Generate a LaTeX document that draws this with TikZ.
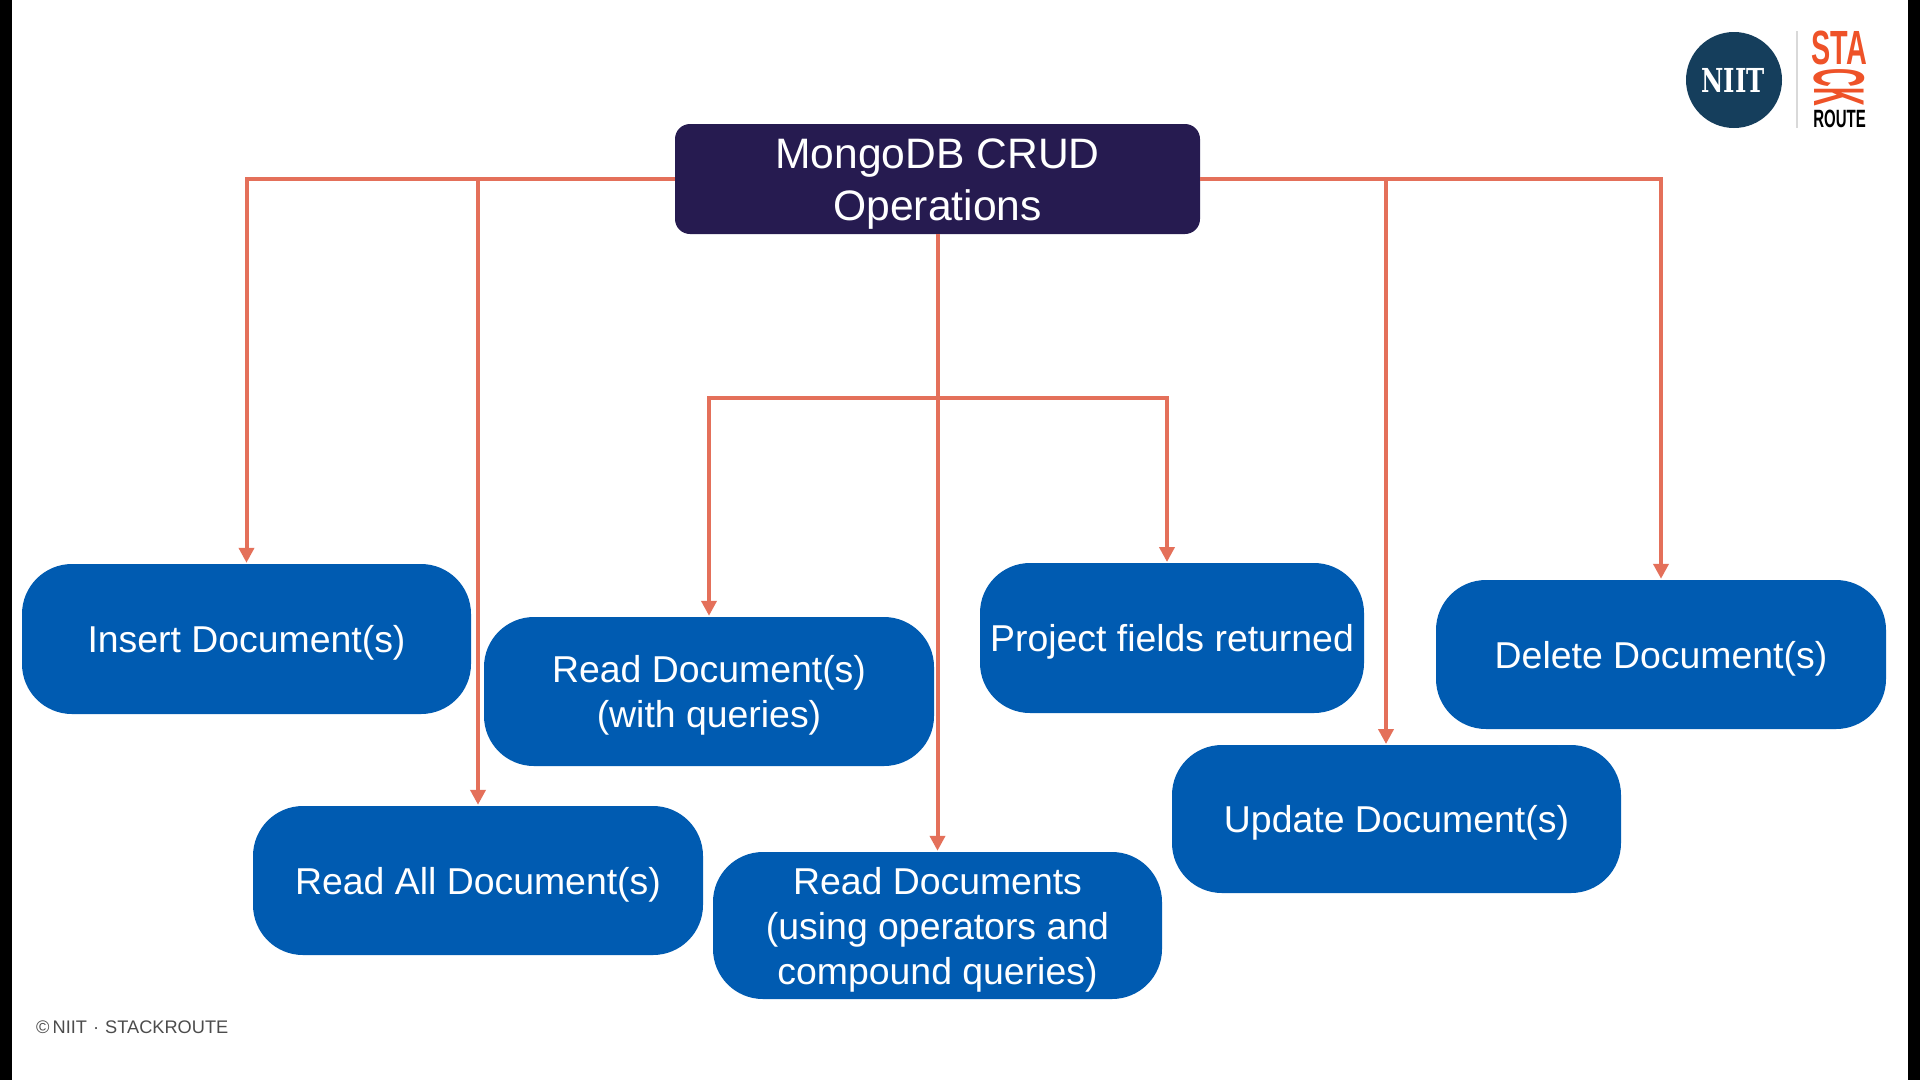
\documentclass[tikz,border=0pt]{standalone}
\usepackage{graphicx}
\usepackage{fontspec}
\setmainfont{Liberation Sans}
\newfontfamily\slabfont{DejaVu Serif}
\usetikzlibrary{arrows.meta}
\definecolor{rootc}{HTML}{261B50}
\definecolor{boxc}{HTML}{005BB1}
\definecolor{linec}{HTML}{E4705A}
\definecolor{niitc}{HTML}{153E5C}
\definecolor{stackc}{HTML}{EE5228}
\tikzset{
  x=1pt,y=-1pt,
  rootbox/.style={fill=rootc,rounded corners=15pt,text=white,align=center,font=\fontsize{42.6}{52}\selectfont,inner sep=0pt},
  opbox/.style={fill=boxc,rounded corners=50pt,text=white,align=center,font=\fontsize{37.4}{45}\selectfont,inner sep=0pt},
  link/.style={draw=linec,line width=4pt},
  arrowlink/.style={link,-{Triangle[length=15pt,width=15pt]},shorten >=1pt},
}
\newcommand{\opnode}[6]{\node[opbox,minimum width=#4pt-#2pt,minimum height=#5pt-#3pt] (#1) at ({(#2+#4)/2},{(#3+#5)/2}) {\rule{0pt}{35pt}#6};}
\begin{document}
\begin{tikzpicture}
\useasboundingbox (0,0) rectangle (1920,1080);
\fill[white] (0,0) rectangle (1920,1080);
\fill[black] (0,0) rectangle (12,1080);
\fill[black] (1908,0) rectangle (1920,1080);
\node[rootbox,minimum width=525pt,minimum height=110pt] (root) at (937.5,179) {\rule{0pt}{40pt}MongoDB CRUD\\Operations};
\opnode{ins}{22}{564}{471}{714}{Insert Document(s)}
\opnode{all}{253}{806}{703}{955}{Read All Document(s)}
\opnode{qry}{484}{617}{934}{766}{Read Document(s)\\(with queries)}
\opnode{ops}{713}{852}{1162}{999}{Read Documents\\(using operators and\\compound queries)}
\opnode{prj}{980}{563}{1364}{713}{Project fields returned}
\opnode{upd}{1172}{745}{1621}{893}{Update Document(s)}
\opnode{del}{1436}{580}{1886}{729}{Delete Document(s)}
\coordinate (split) at (root.south |- 0,398);
\coordinate (prjtop) at (1167,563);
\coordinate (updtop) at (1386,745);
\draw[arrowlink] (root.west) -| (ins.north);
\draw[arrowlink] (root.west) -| (all.north);
\draw[arrowlink] (root.south) -- (ops.north);
\draw[arrowlink] (split) -| (qry.north);
\draw[arrowlink] (split) -| (prjtop);
\draw[arrowlink] (root.east) -| (updtop);
\draw[arrowlink] (root.east) -| (del.north);
% logo
\fill[niitc] (1734,80) circle (48);
\node[text=white,inner sep=0pt] (niit) at (1733,80) {\scalebox{.74}[1]{\slabfont\bfseries\fontsize{33}{33}\selectfont NIIT}};
\draw[black!15,line width=1.2pt] (1797,31) -- (1797,128);
\node[text=stackc,inner sep=0pt] (sta) at (1839.5,48) {\scalebox{.6}[1]{\bfseries\fontsize{48}{48}\selectfont STA}};
\node[text=stackc,inner sep=0pt] (ck) at (1839,87) {\rotatebox{-90}{\scalebox{.36}[1]{\bfseries\fontsize{72}{72}\selectfont CK}}};
\node[text=black,inner sep=0pt] (route) at (1839.5,118.5) {\scalebox{.6}[1]{\bfseries\fontsize{25}{25}\selectfont ROUTE}};
\node[text=black!70,font=\fontsize{18.2}{18.2}\selectfont,inner sep=0pt,anchor=west] (foot) at (36,1027) {©\,NIIT\,\,·\,\,STACKROUTE};
\end{tikzpicture}
\end{document}
